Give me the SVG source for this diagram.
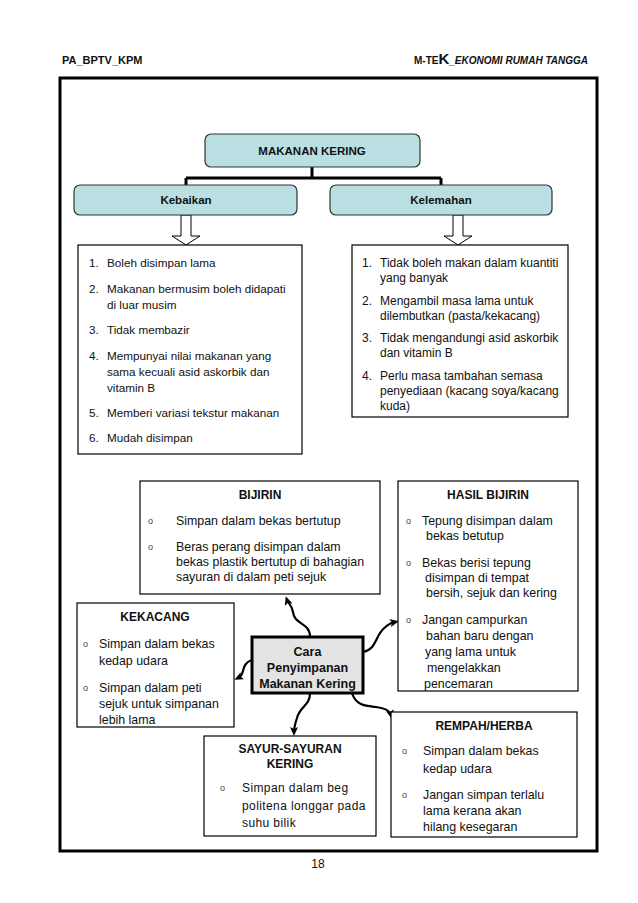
<svg xmlns="http://www.w3.org/2000/svg" width="638" height="903" viewBox="0 0 638 903">
<defs>
<style>
text{font-family:"Liberation Sans",Arial,sans-serif;font-size:12px;fill:#111}
.b{font-weight:bold}
.c{text-anchor:middle}
.o{font-size:9px;fill:#444}
.k1{font-size:11.7px}
.k2{font-size:12px}
.bl{font-size:12.4px}
.wd{font-size:12px;letter-spacing:0.4px}
.hd{fill:#b9dfe3;stroke:#333;stroke-width:1.2}
.bx{fill:#fff;stroke:#000;stroke-width:1.2}
.blk{fill:#fff;stroke:#000;stroke-width:1}
.wv{fill:none;stroke:#000;stroke-width:2.2;marker-end:url(#ah)}
</style>
<marker id="ah" markerWidth="9" markerHeight="8" refX="5" refY="4" orient="auto" markerUnits="userSpaceOnUse">
<path d="M0,0 L9,4 L0,8 L2,4 z" fill="#000"/>
</marker>
</defs>
<rect width="638" height="903" fill="#fff"/>
<text x="62" y="64" class="b" style="font-size:11px">PA_BPTV_KPM</text>
<text x="588" y="64" class="b" style="font-size:10px;text-anchor:end">M-TE<tspan style="font-size:15px">K</tspan><tspan font-style="italic">_EKONOMI RUMAH TANGGA</tspan></text>
<rect x="60" y="78" width="537" height="773" fill="none" stroke="#000" stroke-width="3"/>
<text x="318" y="868" class="c">18</text>

<g id="connectors">
<path d="M312,167 V178 M186,178 H441 M186,178 V185 M441,178 V185" fill="none" stroke="#000" stroke-width="3"/>
<path d="M181,215 H191 V236 H200 L186,245 L172,236 H181 Z" class="blk"/>
<path d="M453,215 H463 V236 H472 L458,245 L444,236 H453 Z" class="blk"/>
<path d="M310,637 C310,622 294,625 293,612 C292,605 288,603 287,600" class="wv"/>
<path d="M363,652 C374,650 375,641 380,633 C385,626 390,623 395,622" class="wv"/>
<path d="M252,660 C245,662 244,667 243,671 C242,675 240,677 238,678" class="wv"/>
<path d="M310,693 C310,706 300,706 297,718 C295,724 294,728 294,732" class="wv"/>
<path d="M352,693 C356,706 366,706 376,707 C385,708 390,711 391,715" class="wv"/>
</g>

<g id="makanan-kering">
<rect x="205" y="134" width="215" height="33" rx="6" class="hd"/>
<text x="312" y="155" class="b c" style="font-size:11.5px">MAKANAN KERING</text>
</g>
<g id="kebaikan">
<rect x="74" y="185" width="223" height="30" rx="6" class="hd"/>
<text x="186" y="204" class="b c" style="font-size:11.5px">Kebaikan</text>
</g>
<g id="kelemahan">
<rect x="330" y="185" width="222" height="30" rx="6" class="hd"/>
<text x="441" y="204" class="b c" style="font-size:11.5px">Kelemahan</text>
</g>

<g id="kebaikan-list" class="k1">
<rect x="78" y="245" width="224" height="209" class="bx"/>
<text x="89" y="267" class="k1">1.</text><text x="107" y="267" class="k1">Boleh disimpan lama</text>
<text x="89" y="293" class="k1">2.</text><text x="107" y="293" class="k1">Makanan bermusim boleh didapati</text>
<text x="107" y="309" class="k1">di luar musim</text>
<text x="89" y="334" class="k1">3.</text><text x="107" y="334" class="k1">Tidak membazir</text>
<text x="89" y="360" class="k1">4.</text><text x="107" y="360" class="k1">Mempunyai nilai makanan yang</text>
<text x="107" y="376" class="k1">sama kecuali asid askorbik dan</text>
<text x="107" y="392" class="k1">vitamin B</text>
<text x="89" y="417" class="k1">5.</text><text x="107" y="417" class="k1">Memberi variasi tekstur makanan</text>
<text x="89" y="442" class="k1">6.</text><text x="107" y="442" class="k1">Mudah disimpan</text>
</g>

<g id="kelemahan-list">
<rect x="352" y="245" width="216" height="172" class="bx"/>
<text x="362" y="267">1.</text><text x="380" y="267">Tidak boleh makan dalam kuantiti</text>
<text x="380" y="282">yang banyak</text>
<text x="362" y="305">2.</text><text x="380" y="305">Mengambil masa lama untuk</text>
<text x="380" y="320">dilembutkan (pasta/kekacang)</text>
<text x="362" y="342">3.</text><text x="380" y="342">Tidak mengandungi asid askorbik</text>
<text x="380" y="357">dan vitamin B</text>
<text x="362" y="380">4.</text><text x="380" y="380">Perlu masa tambahan semasa</text>
<text x="380" y="395">penyediaan (kacang soya/kacang</text>
<text x="380" y="410">kuda)</text>
</g>

<g id="bijirin">
<rect x="140" y="481" width="240" height="113" class="bx"/>
<text x="260" y="499" class="b c">BIJIRIN</text>
<text x="148" y="524" class="o">o</text><text x="176" y="525" class="bl">Simpan dalam bekas bertutup</text>
<text x="148" y="550" class="o">o</text><text x="176" y="551" class="bl">Beras perang disimpan dalam</text>
<text x="176" y="566" class="bl">bekas plastik bertutup di bahagian</text>
<text x="176" y="581" class="bl">sayuran di dalam peti sejuk</text>
</g>

<g id="hasil-bijirin">
<rect x="398" y="481" width="180" height="210" class="bx"/>
<text x="488" y="499" class="b c">HASIL BIJIRIN</text>
<text x="406" y="524" class="o">o</text><text x="422" y="525" class="bl">Tepung disimpan dalam</text>
<text x="426" y="540" class="bl">bekas betutup</text>
<text x="406" y="566" class="o">o</text><text x="422" y="567" class="bl">Bekas berisi tepung</text>
<text x="425" y="582" class="bl">disimpan di tempat</text>
<text x="426" y="597" class="bl">bersih, sejuk dan kering</text>
<text x="406" y="623" class="o">o</text><text x="422" y="624" class="bl">Jangan campurkan</text>
<text x="426" y="640" class="bl">bahan baru dengan</text>
<text x="425" y="656" class="bl">yang lama untuk</text>
<text x="427" y="672" class="bl">mengelakkan</text>
<text x="424" y="688" class="bl">pencemaran</text>
</g>

<g id="kekacang">
<rect x="77" y="603" width="157" height="124" class="bx"/>
<text x="155" y="621" class="b c">KEKACANG</text>
<text x="83" y="647" class="o">o</text><text x="99" y="648" class="bl">Simpan dalam bekas</text>
<text x="99" y="665" class="bl">kedap udara</text>
<text x="83" y="691" class="o">o</text><text x="99" y="692" class="bl">Simpan dalam peti</text>
<text x="99" y="708" class="bl">sejuk untuk simpanan</text>
<text x="99" y="724" class="bl">lebih lama</text>
</g>

<g id="cara-penyimpanan">
<rect x="252" y="637" width="111" height="56" fill="#e3e3e3" stroke="#000" stroke-width="3"/>
<text x="307.5" y="656" class="b c" style="font-size:12.5px">Cara</text>
<text x="307.5" y="672" class="b c" style="font-size:12.5px">Penyimpanan</text>
<text x="307.5" y="688" class="b c" style="font-size:12.5px">Makanan Kering</text>
</g>

<g id="sayur">
<rect x="204" y="736" width="172" height="100" class="bx"/>
<text x="290" y="753" class="b c">SAYUR-SAYURAN</text>
<text x="290" y="768" class="b c">KERING</text>
<text x="220" y="791" class="o">o</text><text x="242" y="792" class="wd">Simpan dalam beg</text>
<text x="242" y="810" class="wd">politena longgar pada</text>
<text x="242" y="827" class="wd">suhu bilik</text>
</g>

<g id="rempah">
<rect x="391" y="712" width="186" height="125" class="bx"/>
<text x="484" y="730" class="b c">REMPAH/HERBA</text>
<text x="402" y="754" class="o">o</text><text x="423" y="755" class="bl">Simpan dalam bekas</text>
<text x="423" y="773" class="bl">kedap udara</text>
<text x="402" y="798" class="o">o</text><text x="423" y="799" class="bl">Jangan simpan terlalu</text>
<text x="423" y="815" class="bl">lama kerana akan</text>
<text x="423" y="831" class="bl">hilang kesegaran</text>
</g>
</svg>
